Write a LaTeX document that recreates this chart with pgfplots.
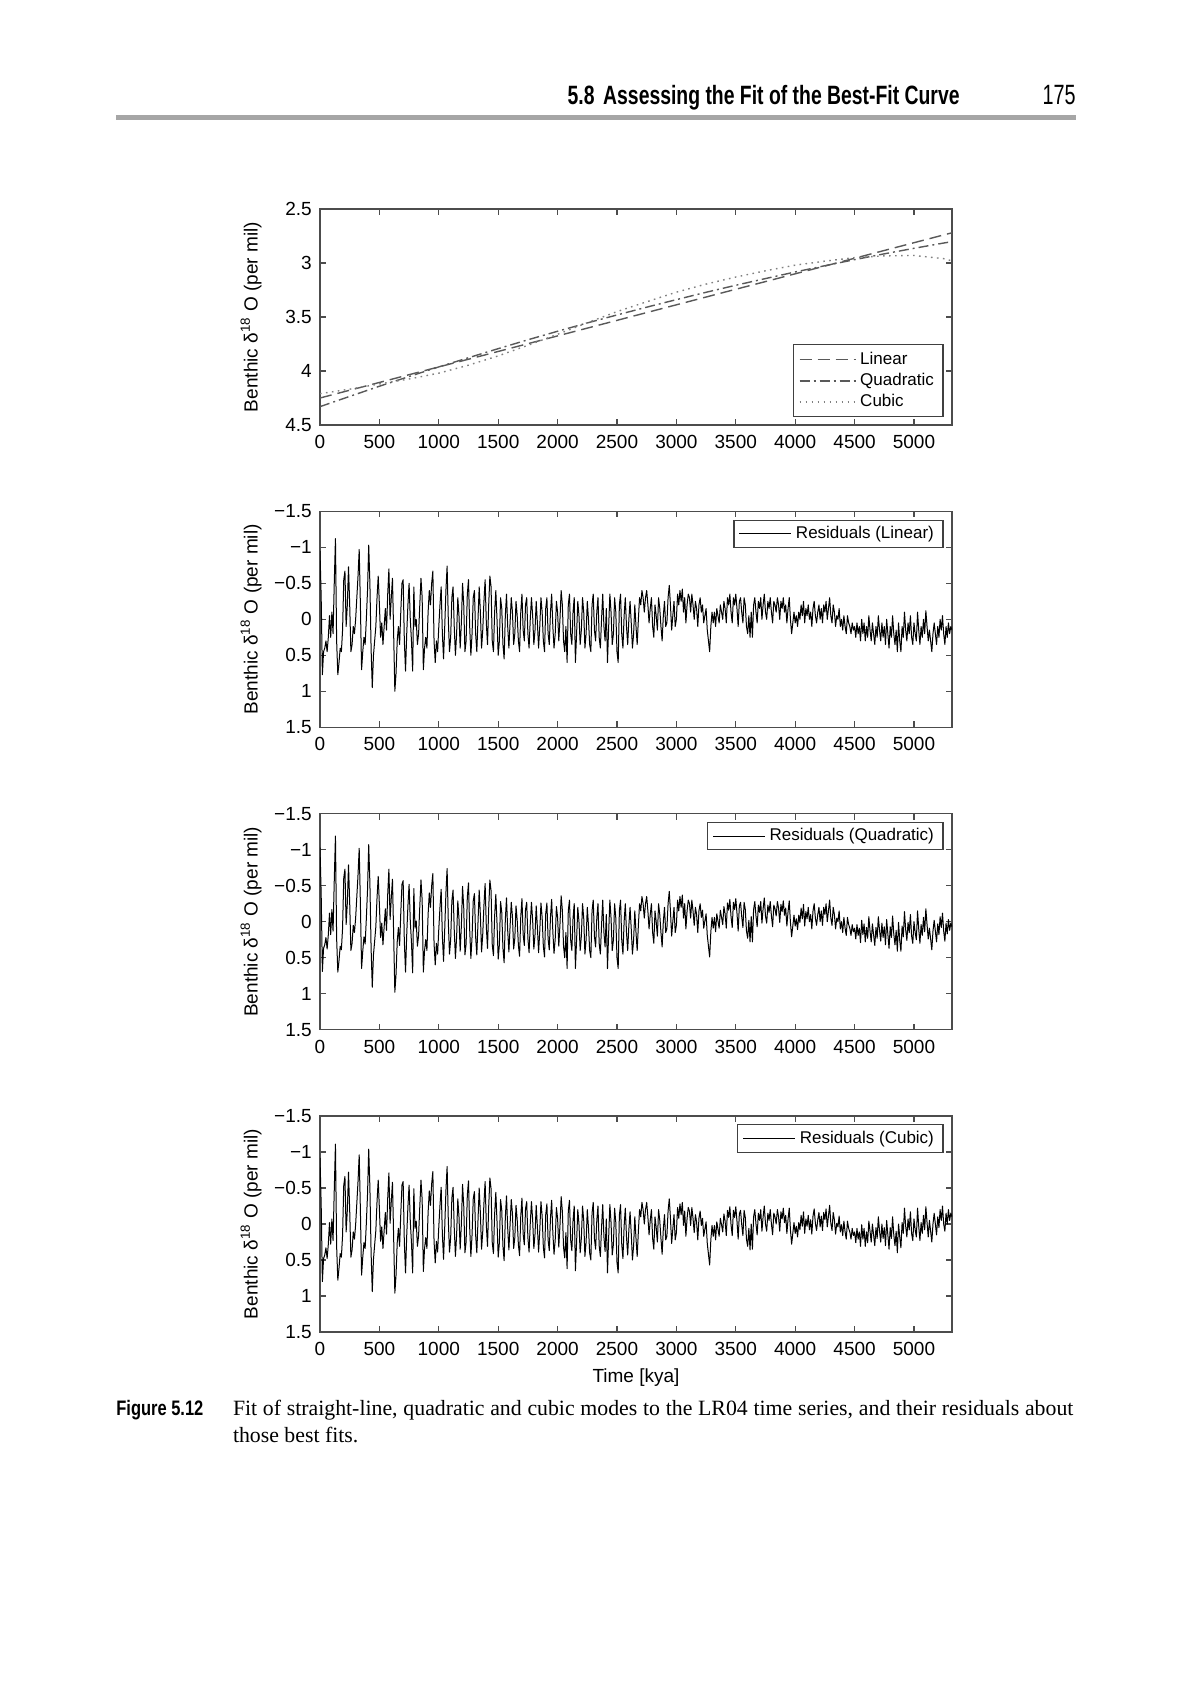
\documentclass[border=0pt]{standalone}
\usepackage{fontspec}
\setmainfont{Liberation Serif}
\setsansfont{Liberation Sans}
\usepackage{graphicx}
\usepackage{pgfplots}
\pgfplotsset{compat=1.18}
\usepackage{pgfplotstable}

\newcommand\tickfont{\sffamily\fontsize{9.5}{11}\selectfont}
\newcommand\legfont{\sffamily\fontsize{8.5}{10}\selectfont}

% fitted curves (per mil)
\pgfplotstableread{
x lin quad cub
0 4.250 4.330 4.210
250 4.178 4.235 4.168
500 4.106 4.141 4.120
750 4.034 4.051 4.074
1000 3.962 3.962 4.020
1250 3.891 3.877 3.946
1500 3.819 3.793 3.860
1750 3.747 3.711 3.762
2000 3.675 3.632 3.660
2250 3.603 3.555 3.553
2500 3.531 3.481 3.450
2750 3.459 3.409 3.359
3000 3.387 3.339 3.270
3250 3.315 3.271 3.195
3500 3.243 3.206 3.130
3750 3.172 3.144 3.072
4000 3.100 3.083 3.020
4250 3.028 3.025 2.983
4500 2.956 2.969 2.950
4750 2.884 2.915 2.934
5000 2.812 2.864 2.930
5250 2.740 2.815 2.960
5320 2.720 2.802 2.980
}\fits

% residuals about the three fits
\pgfplotstableread{
x lin quad cub
0 -0.95 -1.03 -0.92
10 -0.30 -0.38 -0.27
20 0.77 0.69 0.80
30 0.45 0.37 0.48
40 0.40 0.32 0.43
50 0.30 0.22 0.33
60 0.45 0.38 0.48
70 0.25 0.18 0.28
80 -0.05 -0.12 -0.02
90 0.25 0.18 0.28
100 -0.10 -0.17 -0.07
110 0.20 0.13 0.23
120 -0.50 -0.57 -0.47
130 -1.12 -1.19 -1.11
140 0.30 0.23 0.31
150 0.77 0.70 0.78
160 0.60 0.54 0.61
170 0.40 0.34 0.41
180 0.45 0.39 0.46
190 0.15 0.09 0.16
200 -0.55 -0.61 -0.54
210 -0.67 -0.73 -0.66
220 0.10 0.04 0.11
230 -0.20 -0.26 -0.19
240 -0.73 -0.79 -0.72
250 -0.20 -0.26 -0.19
260 0.45 0.40 0.46
270 0.35 0.30 0.36
280 0.10 0.05 0.11
290 0.20 0.15 0.21
300 0.00 -0.05 0.01
310 -0.30 -0.35 -0.29
320 -0.60 -0.65 -0.59
330 -0.97 -1.02 -0.96
340 -0.20 -0.25 -0.19
350 0.70 0.65 0.71
360 0.45 0.41 0.46
370 0.25 0.21 0.26
380 0.35 0.31 0.34
390 0.00 -0.04 -0.01
400 -0.40 -0.44 -0.41
410 -1.03 -1.07 -1.04
420 -0.50 -0.54 -0.51
430 0.40 0.36 0.39
440 0.95 0.91 0.94
450 0.50 0.46 0.49
460 0.30 0.27 0.29
470 0.10 0.07 0.09
480 -0.30 -0.33 -0.31
490 -0.60 -0.63 -0.61
500 -0.20 -0.23 -0.21
510 0.25 0.22 0.24
520 0.05 0.02 0.04
530 0.35 0.32 0.34
540 0.10 0.07 0.09
550 -0.15 -0.18 -0.16
560 0.15 0.12 0.14
570 -0.35 -0.38 -0.36
580 -0.70 -0.73 -0.71
590 0.00 -0.03 -0.01
600 -0.30 -0.33 -0.31
610 -0.57 -0.59 -0.58
620 0.20 0.18 0.19
630 1.00 0.98 0.96
640 0.75 0.73 0.71
650 0.30 0.28 0.26
660 0.10 0.08 0.06
670 0.35 0.33 0.31
680 -0.10 -0.12 -0.14
690 -0.50 -0.52 -0.54
700 -0.55 -0.57 -0.59
710 0.30 0.28 0.26
720 0.72 0.70 0.68
730 0.20 0.18 0.16
740 -0.20 -0.22 -0.24
750 -0.50 -0.52 -0.54
760 0.00 -0.01 -0.04
770 0.30 0.29 0.26
780 0.72 0.71 0.68
790 -0.45 -0.46 -0.49
800 0.10 0.09 0.06
810 0.00 -0.01 -0.04
820 0.35 0.34 0.31
830 0.20 0.19 0.16
840 -0.20 -0.21 -0.24
850 -0.57 -0.58 -0.61
860 -0.30 -0.30 -0.34
870 0.70 0.70 0.66
880 0.40 0.40 0.34
890 0.25 0.25 0.19
900 0.40 0.40 0.34
910 -0.10 -0.10 -0.16
920 -0.40 -0.40 -0.46
930 -0.20 -0.20 -0.26
940 -0.50 -0.50 -0.56
950 -0.67 -0.67 -0.73
960 0.30 0.30 0.24
970 0.60 0.60 0.54
980 0.30 0.30 0.24
990 0.45 0.45 0.39
1000 0.10 0.10 0.04
1010 -0.20 -0.20 -0.26
1020 -0.45 -0.45 -0.51
1030 0.20 0.20 0.14
1040 0.55 0.55 0.49
1050 0.10 0.10 0.04
1060 -0.40 -0.40 -0.46
1070 -0.74 -0.74 -0.80
1080 0.00 0.00 -0.06
1090 0.45 0.45 0.39
1100 0.25 0.25 0.19
1110 -0.30 -0.29 -0.36
1120 -0.45 -0.44 -0.51
1130 0.10 0.11 0.05
1140 0.50 0.51 0.45
1150 0.20 0.21 0.15
1160 -0.30 -0.29 -0.35
1170 -0.05 -0.04 -0.10
1180 0.40 0.41 0.35
1190 0.05 0.06 0.00
1200 -0.50 -0.49 -0.55
1210 -0.20 -0.19 -0.25
1220 0.45 0.46 0.40
1230 0.30 0.31 0.25
1240 -0.35 -0.34 -0.40
1250 -0.55 -0.54 -0.60
1260 0.10 0.11 0.05
1270 0.50 0.51 0.45
1280 0.20 0.21 0.15
1290 -0.30 -0.29 -0.35
1300 -0.40 -0.39 -0.45
1310 0.20 0.21 0.15
1320 0.45 0.46 0.40
1330 0.00 0.01 -0.05
1340 -0.45 -0.44 -0.50
1350 -0.10 -0.09 -0.15
1360 0.40 0.42 0.35
1370 0.15 0.17 0.10
1380 -0.25 -0.23 -0.29
1390 -0.55 -0.53 -0.59
1400 0.05 0.07 0.01
1410 0.35 0.37 0.31
1420 -0.20 -0.18 -0.24
1430 -0.60 -0.58 -0.64
1440 -0.45 -0.43 -0.49
1450 0.30 0.32 0.26
1460 0.45 0.47 0.41
1470 -0.10 -0.08 -0.14
1480 -0.40 -0.38 -0.44
1490 0.00 0.02 -0.04
1500 0.50 0.52 0.46
1510 0.30 0.32 0.26
1520 -0.30 -0.28 -0.34
1530 -0.15 -0.13 -0.19
1540 0.35 0.37 0.31
1550 0.55 0.57 0.51
1560 -0.05 -0.03 -0.09
1570 -0.35 -0.33 -0.39
1580 0.10 0.12 0.06
1590 0.40 0.42 0.36
1600 0.05 0.07 0.01
1610 -0.30 -0.27 -0.34
1620 -0.10 -0.07 -0.14
1630 0.35 0.38 0.34
1640 0.20 0.23 0.19
1650 -0.25 -0.22 -0.26
1660 -0.05 -0.02 -0.06
1670 0.30 0.33 0.29
1680 0.45 0.48 0.44
1690 -0.10 -0.07 -0.11
1700 -0.35 -0.32 -0.36
1710 0.15 0.18 0.14
1720 0.30 0.33 0.29
1730 -0.20 -0.17 -0.21
1740 -0.30 -0.27 -0.31
1750 0.20 0.23 0.19
1760 0.40 0.43 0.39
1770 0.00 0.03 -0.01
1780 -0.30 -0.27 -0.31
1790 -0.05 -0.02 -0.06
1800 0.35 0.38 0.34
1810 0.15 0.18 0.14
1820 -0.25 -0.22 -0.26
1830 0.05 0.08 0.04
1840 0.40 0.43 0.39
1850 0.10 0.13 0.09
1860 -0.30 -0.26 -0.31
1870 -0.10 -0.06 -0.11
1880 0.30 0.34 0.32
1890 0.45 0.49 0.47
1900 -0.15 -0.11 -0.13
1910 -0.30 -0.26 -0.28
1920 0.20 0.24 0.22
1930 0.35 0.39 0.37
1940 -0.10 -0.06 -0.08
1950 -0.35 -0.31 -0.33
1960 0.10 0.14 0.12
1970 0.40 0.44 0.42
1980 0.20 0.24 0.22
1990 -0.25 -0.21 -0.23
2000 -0.10 -0.06 -0.08
2010 0.30 0.34 0.32
2020 0.00 0.04 0.02
2030 -0.40 -0.36 -0.38
2040 -0.20 -0.16 -0.18
2050 0.30 0.34 0.32
2060 0.45 0.50 0.47
2070 0.10 0.15 0.12
2080 0.60 0.65 0.62
2090 -0.20 -0.15 -0.18
2100 -0.35 -0.30 -0.33
2110 0.20 0.25 0.22
2120 0.35 0.40 0.37
2130 -0.10 -0.05 -0.05
2140 -0.30 -0.25 -0.25
2150 0.60 0.65 0.65
2160 0.20 0.25 0.25
2170 -0.25 -0.20 -0.20
2180 -0.05 0.00 0.00
2190 0.35 0.40 0.40
2200 0.15 0.20 0.20
2210 -0.30 -0.25 -0.25
2220 -0.10 -0.05 -0.05
2230 0.40 0.45 0.45
2240 0.20 0.25 0.25
2250 -0.25 -0.20 -0.20
2260 0.00 0.05 0.05
2270 0.35 0.40 0.40
2280 0.45 0.50 0.50
2290 -0.20 -0.15 -0.15
2300 -0.35 -0.30 -0.30
2310 0.15 0.20 0.20
2320 0.30 0.35 0.35
2330 -0.10 -0.05 -0.05
2340 -0.30 -0.25 -0.25
2350 0.25 0.30 0.30
2360 0.40 0.45 0.45
2370 0.00 0.05 0.05
2380 -0.35 -0.30 -0.27
2390 0.10 0.15 0.18
2400 0.30 0.35 0.38
2410 -0.15 -0.10 -0.07
2420 0.60 0.65 0.68
2430 0.10 0.15 0.18
2440 -0.35 -0.30 -0.27
2450 -0.10 -0.05 -0.02
2460 0.35 0.40 0.43
2470 0.20 0.25 0.28
2480 -0.30 -0.25 -0.22
2490 -0.10 -0.05 -0.02
2500 0.45 0.50 0.53
2510 0.60 0.65 0.68
2520 -0.20 -0.15 -0.12
2530 -0.35 -0.30 -0.27
2540 0.20 0.25 0.28
2550 0.40 0.45 0.48
2560 -0.05 0.00 0.03
2570 -0.30 -0.25 -0.22
2580 0.10 0.15 0.18
2590 0.35 0.40 0.43
2600 0.00 0.05 0.08
2610 -0.25 -0.20 -0.17
2620 0.05 0.10 0.13
2630 0.40 0.45 0.50
2640 0.20 0.25 0.30
2650 -0.20 -0.15 -0.10
2660 0.10 0.15 0.20
2670 0.35 0.40 0.45
2680 0.00 0.05 0.10
2690 -0.30 -0.25 -0.20
2700 -0.20 -0.15 -0.10
2710 -0.40 -0.35 -0.30
2720 -0.30 -0.25 -0.20
2730 -0.10 -0.05 0.00
2740 -0.30 -0.25 -0.20
2750 -0.40 -0.35 -0.30
2760 -0.20 -0.15 -0.10
2770 0.05 0.10 0.15
2780 -0.15 -0.10 -0.05
2790 -0.30 -0.25 -0.20
2800 0.10 0.15 0.20
2810 0.25 0.30 0.35
2820 -0.20 -0.15 -0.10
2830 -0.05 0.00 0.05
2840 0.15 0.20 0.25
2850 -0.30 -0.25 -0.20
2860 -0.15 -0.10 -0.05
2870 0.10 0.15 0.20
2880 0.30 0.35 0.42
2890 -0.05 0.00 0.07
2900 -0.25 -0.20 -0.13
2910 0.10 0.15 0.22
2920 0.05 0.10 0.17
2930 -0.30 -0.25 -0.18
2940 -0.47 -0.42 -0.35
2950 -0.20 -0.15 -0.08
2960 0.15 0.20 0.27
2970 -0.05 0.00 0.07
2980 -0.25 -0.20 -0.13
2990 0.10 0.15 0.22
3000 0.00 0.05 0.12
3010 -0.35 -0.30 -0.23
3020 -0.20 -0.15 -0.08
3030 -0.40 -0.35 -0.28
3040 -0.25 -0.20 -0.13
3050 -0.42 -0.37 -0.30
3060 -0.10 -0.05 0.02
3070 -0.30 -0.25 -0.18
3080 0.05 0.10 0.17
3090 -0.20 -0.15 -0.08
3100 -0.35 -0.30 -0.23
3110 -0.30 -0.25 -0.18
3120 -0.10 -0.05 0.02
3130 -0.35 -0.30 -0.23
3140 -0.20 -0.15 -0.08
3150 0.00 0.05 0.12
3160 -0.25 -0.20 -0.13
3170 -0.15 -0.10 -0.03
3180 0.10 0.15 0.22
3190 -0.20 -0.15 -0.08
3200 -0.30 -0.25 -0.18
3210 -0.10 -0.06 0.02
3220 -0.20 -0.16 -0.08
3230 0.05 0.09 0.17
3240 -0.05 -0.01 0.07
3250 -0.15 -0.11 -0.03
3260 0.15 0.19 0.27
3270 0.30 0.34 0.42
3280 0.45 0.49 0.57
3290 0.10 0.14 0.22
3300 -0.10 -0.06 0.02
3310 0.05 0.09 0.17
3320 -0.10 -0.06 0.02
3330 0.10 0.14 0.22
3340 -0.15 -0.11 -0.03
3350 -0.05 -0.01 0.07
3360 0.05 0.09 0.17
3370 -0.20 -0.16 -0.08
3380 -0.10 -0.06 0.01
3390 0.00 0.04 0.11
3400 -0.25 -0.21 -0.14
3410 -0.15 -0.11 -0.04
3420 0.05 0.09 0.16
3430 -0.30 -0.26 -0.19
3440 -0.20 -0.16 -0.09
3450 -0.35 -0.31 -0.24
3460 -0.10 -0.07 0.01
3470 0.05 0.08 0.16
3480 -0.30 -0.27 -0.19
3490 -0.20 -0.17 -0.09
3500 -0.35 -0.32 -0.24
3510 -0.15 -0.12 -0.04
3520 0.10 0.13 0.21
3530 -0.25 -0.22 -0.14
3540 -0.30 -0.27 -0.19
3550 -0.10 -0.07 0.01
3560 0.05 0.08 0.16
3570 -0.30 -0.27 -0.19
3580 -0.20 -0.17 -0.09
3590 0.10 0.13 0.21
3600 0.20 0.23 0.31
3610 -0.05 -0.02 0.06
3620 0.25 0.28 0.36
3630 -0.10 -0.07 0.00
3640 0.25 0.28 0.35
3650 -0.20 -0.17 -0.10
3660 -0.30 -0.28 -0.20
3670 -0.10 -0.08 0.00
3680 0.05 0.07 0.15
3690 -0.25 -0.23 -0.15
3700 -0.15 -0.13 -0.05
3710 -0.30 -0.28 -0.20
3720 0.00 0.02 0.10
3730 -0.20 -0.18 -0.10
3740 -0.35 -0.33 -0.25
3750 -0.10 -0.08 0.00
3760 0.00 0.02 0.10
3770 -0.25 -0.23 -0.15
3780 -0.15 -0.13 -0.05
3790 -0.30 -0.28 -0.20
3800 -0.10 -0.08 0.00
3810 0.05 0.07 0.15
3820 -0.25 -0.23 -0.15
3830 -0.20 -0.18 -0.10
3840 -0.10 -0.08 0.00
3850 -0.30 -0.28 -0.20
3860 -0.20 -0.19 -0.10
3870 0.00 0.01 0.10
3880 -0.25 -0.24 -0.17
3890 -0.15 -0.14 -0.07
3900 -0.30 -0.29 -0.22
3910 -0.10 -0.09 -0.02
3920 -0.20 -0.19 -0.12
3930 0.05 0.06 0.13
3940 -0.15 -0.14 -0.07
3950 -0.30 -0.29 -0.22
3960 0.00 0.01 0.08
3970 0.20 0.21 0.28
3980 0.05 0.06 0.13
3990 -0.10 -0.09 -0.02
4000 0.05 0.06 0.13
4010 -0.05 -0.04 0.03
4020 0.10 0.11 0.18
4030 -0.10 -0.09 -0.02
4040 0.00 0.01 0.08
4050 -0.20 -0.19 -0.12
4060 -0.05 -0.04 0.03
4070 -0.25 -0.24 -0.17
4080 0.05 0.06 0.13
4090 -0.15 -0.14 -0.07
4100 -0.05 -0.04 0.03
4110 -0.20 -0.20 -0.12
4120 0.00 0.00 0.08
4130 -0.10 -0.10 -0.06
4140 0.10 0.10 0.14
4150 -0.15 -0.15 -0.11
4160 -0.25 -0.25 -0.21
4170 -0.05 -0.05 -0.01
4180 0.05 0.05 0.09
4190 -0.10 -0.10 -0.06
4200 -0.20 -0.20 -0.16
4210 0.00 0.00 0.04
4220 -0.15 -0.15 -0.11
4230 0.05 0.05 0.09
4240 -0.20 -0.20 -0.16
4250 -0.10 -0.10 -0.06
4260 -0.25 -0.25 -0.21
4270 0.00 0.00 0.04
4280 -0.15 -0.15 -0.11
4290 -0.30 -0.30 -0.26
4300 -0.05 -0.05 -0.01
4310 0.05 0.05 0.09
4320 -0.20 -0.20 -0.16
4330 -0.10 -0.10 -0.06
4340 0.10 0.10 0.14
4350 -0.05 -0.05 -0.01
4360 0.00 0.00 0.04
4370 -0.15 -0.15 -0.11
4380 0.10 0.10 0.11
4390 0.00 0.00 0.01
4400 0.15 0.15 0.16
4410 -0.05 -0.06 -0.04
4420 0.10 0.09 0.11
4430 0.20 0.19 0.21
4440 -0.05 -0.06 -0.04
4450 0.05 0.04 0.06
4460 0.10 0.09 0.11
4470 0.20 0.19 0.21
4480 0.05 0.04 0.06
4490 0.15 0.14 0.16
4500 0.10 0.09 0.11
4510 0.25 0.24 0.26
4520 0.05 0.04 0.06
4530 0.20 0.19 0.21
4540 0.10 0.09 0.11
4550 0.30 0.29 0.31
4560 0.00 -0.02 0.01
4570 0.20 0.18 0.21
4580 0.05 0.03 0.06
4590 0.30 0.28 0.31
4600 0.10 0.08 0.11
4610 0.25 0.23 0.26
4620 -0.05 -0.07 -0.04
4630 0.15 0.13 0.10
4640 0.30 0.28 0.25
4650 0.05 0.03 0.00
4660 0.20 0.18 0.15
4670 0.35 0.33 0.30
4680 0.10 0.08 0.05
4690 0.25 0.23 0.20
4700 -0.05 -0.07 -0.10
4710 0.15 0.12 0.10
4720 0.30 0.27 0.25
4730 0.05 0.02 0.00
4740 0.25 0.22 0.20
4750 0.10 0.07 0.05
4760 0.35 0.32 0.30
4770 0.00 -0.03 -0.05
4780 0.20 0.17 0.15
4790 0.40 0.37 0.35
4800 0.10 0.07 0.05
4810 0.25 0.22 0.20
4820 -0.05 -0.08 -0.10
4830 0.20 0.17 0.15
4840 0.35 0.32 0.30
4850 0.15 0.12 0.10
4860 0.45 0.41 0.40
4870 0.05 0.01 0.00
4880 0.30 0.26 0.18
4890 0.45 0.41 0.33
4900 0.10 0.06 -0.02
4910 0.25 0.21 0.13
4920 -0.10 -0.14 -0.22
4930 0.15 0.11 0.03
4940 0.30 0.26 0.18
4950 0.05 0.01 -0.07
4960 0.20 0.15 0.08
4970 -0.05 -0.10 -0.17
4980 0.25 0.20 0.13
4990 0.35 0.30 0.23
5000 0.05 0.00 -0.07
5010 0.20 0.15 0.08
5020 0.30 0.25 0.18
5030 -0.10 -0.15 -0.22
5040 0.15 0.10 0.03
5050 0.35 0.30 0.23
5060 0.10 0.04 -0.02
5070 0.25 0.19 0.13
5080 0.00 -0.06 -0.12
5090 0.20 0.14 0.08
5100 -0.12 -0.18 -0.24
5110 0.10 0.04 -0.02
5120 0.30 0.24 0.18
5130 0.15 0.09 -0.05
5140 0.30 0.24 0.10
5150 0.45 0.39 0.25
5160 0.20 0.13 0.00
5170 0.05 -0.02 -0.15
5180 0.20 0.13 0.00
5190 0.35 0.28 0.15
5200 0.10 0.03 -0.10
5210 0.25 0.18 0.05
5220 0.00 -0.07 -0.20
5230 0.15 0.08 -0.05
5240 -0.05 -0.12 -0.25
5250 0.20 0.13 0.00
5260 0.35 0.27 0.10
5270 0.10 0.02 -0.15
5280 0.25 0.17 0.00
5290 0.05 -0.03 -0.20
5300 0.20 0.12 -0.05
5310 0.10 0.02 -0.15
5320 0.15 0.07 -0.10
}\resid

\pgfplotsset{
  panel/.style={
    scale only axis, width=316pt, height=108pt,
    anchor=north west,
    xmin=0, xmax=5320,
    y dir=reverse,
    axis line style={black!70, line width=0.6pt},
    every tick/.style={black!70, line width=0.6pt},
    major tick length=3pt,
    tick align=inside,
    xtick pos=both, ytick pos=both,
    xticklabel pos=bottom, yticklabel pos=left,
    xtick={0,500,1000,1500,2000,2500,3000,3500,4000,4500,5000},
    xticklabels={0,500,1000,1500,2000,2500,3000,3500,4000,4500,5000},
    tick label style={font=\tickfont, black},
    xticklabel style={yshift=-1.5pt},
    yticklabel style={xshift=-0.6pt},
    ylabel={Benthic δ\textsuperscript{18} O (per mil)},
    ylabel style={font=\tickfont, at={(axis description cs:-0.109,0.5)}, anchor=center},
    legend cell align=left,
  },
  residpanel/.style={
    panel,
    ymin=-1.5, ymax=1.5,
    ytick={-1.5,-1,-0.5,0,0.5,1,1.5},
    yticklabels={−1.5,−1,−0.5,0,0.5,1,1.5},
    legend style={at={(0.9866,0.962)}, anchor=north east,
      draw=black!75, line width=0.6pt, font=\legfont,
      inner xsep=2.5pt, inner ysep=1pt},
  },
}

\begin{document}
\begin{tikzpicture}
\path[fill=white] (0pt,0pt) rectangle (600pt,-852pt);

% running head
\node[anchor=base east, inner sep=0] at (480pt,-52pt)
  {\resizebox{196pt}{9.6pt}{\sffamily\bfseries 5.8\hspace{0.45em}Assessing the Fit of the Best-Fit Curve}};
\node[anchor=base east, inner sep=0] at (538pt,-52pt)
  {\resizebox{16.5pt}{9.6pt}{\sffamily 175}};
\draw[black!35, line width=2.6pt] (58pt,-58.7pt) -- (538pt,-58.7pt);

% panel 1: fits
\begin{axis}[panel, at={(160pt,-104.5pt)},
  ymin=2.5, ymax=4.5,
  ytick={2.5,3,3.5,4,4.5},
  yticklabels={2.5,3,3.5,4,4.5},
  legend style={at={(0.9866,0.035)}, anchor=south east,
    draw=black!75, line width=0.6pt, font=\legfont,
    inner xsep=2.5pt, inner ysep=1.5pt, row sep=-1pt},
  legend image code/.code={\draw[#1] (0pt,0pt) -- (28pt,0pt);},
]
\addplot[black!65, line width=0.7pt, dash pattern=on 6pt off 3pt] table[x=x, y=lin] {\fits};
\addlegendentry{Linear}
\addplot[black!65, line width=0.7pt, dash pattern=on 5pt off 2pt on 1pt off 2pt] table[x=x, y=quad] {\fits};
\addlegendentry{Quadratic}
\addplot[black!50, line width=0.7pt, dash pattern=on 0.8pt off 2.2pt] table[x=x, y=cub] {\fits};
\addlegendentry{Cubic}
\end{axis}

% panel 2: linear residuals
\begin{axis}[residpanel, at={(160pt,-255.65pt)},
  legend image code/.code={\draw[#1] (0pt,0pt) -- (26pt,0pt);},
]
\addplot[black, line width=0.5pt, line join=round] table[x=x, y=lin] {\resid};
\addlegendentry{Residuals (Linear)}
\end{axis}

% panel 3: quadratic residuals
\begin{axis}[residpanel, at={(160pt,-406.85pt)},
  legend image code/.code={\draw[#1] (0pt,0pt) -- (26pt,0pt);},
]
\addplot[black, line width=0.5pt, line join=round] table[x=x, y=quad] {\resid};
\addlegendentry{Residuals (Quadratic)}
\end{axis}

% panel 4: cubic residuals
\begin{axis}[residpanel, at={(160pt,-558pt)},
  xlabel={Time [kya]},
  xlabel style={font=\tickfont, at={(axis description cs:0.5,0)}, anchor=center, yshift=-23pt},
  legend image code/.code={\draw[#1] (0pt,0pt) -- (26pt,0pt);},
]
\addplot[black, line width=0.5pt, line join=round] table[x=x, y=cub] {\resid};
\addlegendentry{Residuals (Cubic)}
\end{axis}

% caption
\node[anchor=base west, inner sep=0] at (58pt,-707.5pt)
  {\resizebox{43.5pt}{7.6pt}{\sffamily\bfseries Figure 5.12}};
\node[anchor=base west, inner sep=0, font=\fontsize{10.9}{13.5}\selectfont] at (116.3pt,-707.5pt)
  {\makebox[420.2pt][s]{Fit of straight-line, quadratic and cubic modes to the LR04 time series, and their residuals about}};
\node[anchor=base west, inner sep=0, font=\fontsize{10.9}{13.5}\selectfont] at (116.3pt,-721pt)
  {those best fits.};
\end{tikzpicture}
\end{document}
